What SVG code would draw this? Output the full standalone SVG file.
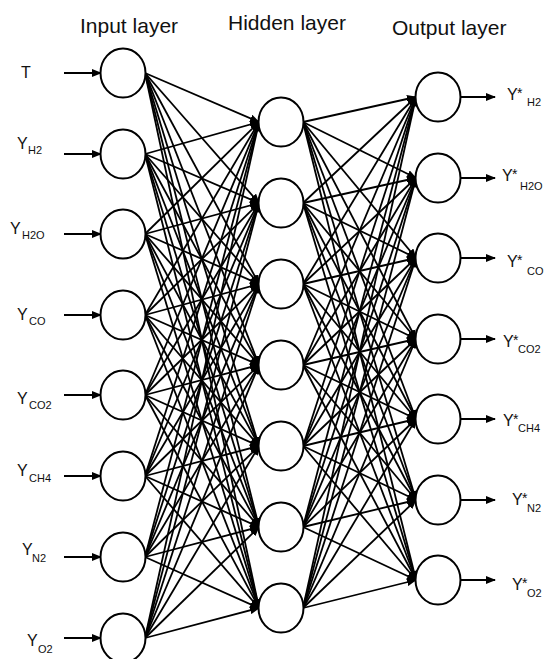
<svg xmlns="http://www.w3.org/2000/svg" width="551" height="659" viewBox="0 0 551 659">
<style>
text{font-family:"Liberation Sans",Arial,sans-serif;fill:#111}
.title{font-size:21px}
.big{font-size:16px}
.sub{font-size:11px}
.star{font-size:14px}
.node ellipse{fill:#fff;stroke:#000;stroke-width:2}
.conn line{stroke:#000;stroke-width:1.8;marker-end:url(#ah)}
</style>
<defs>
<marker id="ah" markerUnits="userSpaceOnUse" markerWidth="10" markerHeight="8" refX="9" refY="4" orient="auto">
<path d="M0,0 L10,4 L0,8 z" fill="#000"/>
</marker>
</defs>
<g id="titles">
<text class="title" x="80" y="33">Input layer</text>
<text class="title" x="228" y="30">Hidden layer</text>
<text class="title" x="392" y="35">Output layer</text>
</g>
<g id="connectors" class="conn">
<line x1="64" y1="73" x2="101" y2="73"/>
<line x1="64" y1="154" x2="101" y2="154"/>
<line x1="64" y1="234" x2="101" y2="234"/>
<line x1="64" y1="315" x2="101" y2="315"/>
<line x1="64" y1="395" x2="101" y2="395"/>
<line x1="64" y1="476" x2="101" y2="476"/>
<line x1="64" y1="557" x2="101" y2="557"/>
<line x1="64" y1="638" x2="101" y2="638"/>
<line x1="145" y1="73" x2="259" y2="122"/><line x1="145" y1="73" x2="259" y2="203"/><line x1="145" y1="73" x2="259" y2="284"/><line x1="145" y1="73" x2="259" y2="365"/><line x1="145" y1="73" x2="259" y2="446"/><line x1="145" y1="73" x2="259" y2="527"/><line x1="145" y1="73" x2="259" y2="608"/>
<line x1="145" y1="154" x2="259" y2="122"/><line x1="145" y1="154" x2="259" y2="203"/><line x1="145" y1="154" x2="259" y2="284"/><line x1="145" y1="154" x2="259" y2="365"/><line x1="145" y1="154" x2="259" y2="446"/><line x1="145" y1="154" x2="259" y2="527"/><line x1="145" y1="154" x2="259" y2="608"/>
<line x1="145" y1="234" x2="259" y2="122"/><line x1="145" y1="234" x2="259" y2="203"/><line x1="145" y1="234" x2="259" y2="284"/><line x1="145" y1="234" x2="259" y2="365"/><line x1="145" y1="234" x2="259" y2="446"/><line x1="145" y1="234" x2="259" y2="527"/><line x1="145" y1="234" x2="259" y2="608"/>
<line x1="145" y1="315" x2="259" y2="122"/><line x1="145" y1="315" x2="259" y2="203"/><line x1="145" y1="315" x2="259" y2="284"/><line x1="145" y1="315" x2="259" y2="365"/><line x1="145" y1="315" x2="259" y2="446"/><line x1="145" y1="315" x2="259" y2="527"/><line x1="145" y1="315" x2="259" y2="608"/>
<line x1="145" y1="395" x2="259" y2="122"/><line x1="145" y1="395" x2="259" y2="203"/><line x1="145" y1="395" x2="259" y2="284"/><line x1="145" y1="395" x2="259" y2="365"/><line x1="145" y1="395" x2="259" y2="446"/><line x1="145" y1="395" x2="259" y2="527"/><line x1="145" y1="395" x2="259" y2="608"/>
<line x1="145" y1="476" x2="259" y2="122"/><line x1="145" y1="476" x2="259" y2="203"/><line x1="145" y1="476" x2="259" y2="284"/><line x1="145" y1="476" x2="259" y2="365"/><line x1="145" y1="476" x2="259" y2="446"/><line x1="145" y1="476" x2="259" y2="527"/><line x1="145" y1="476" x2="259" y2="608"/>
<line x1="145" y1="557" x2="259" y2="122"/><line x1="145" y1="557" x2="259" y2="203"/><line x1="145" y1="557" x2="259" y2="284"/><line x1="145" y1="557" x2="259" y2="365"/><line x1="145" y1="557" x2="259" y2="446"/><line x1="145" y1="557" x2="259" y2="527"/><line x1="145" y1="557" x2="259" y2="608"/>
<line x1="145" y1="638" x2="259" y2="122"/><line x1="145" y1="638" x2="259" y2="203"/><line x1="145" y1="638" x2="259" y2="284"/><line x1="145" y1="638" x2="259" y2="365"/><line x1="145" y1="638" x2="259" y2="446"/><line x1="145" y1="638" x2="259" y2="527"/><line x1="145" y1="638" x2="259" y2="608"/>
<line x1="303" y1="122" x2="416" y2="97"/><line x1="303" y1="122" x2="416" y2="178"/><line x1="303" y1="122" x2="416" y2="258"/><line x1="303" y1="122" x2="416" y2="339"/><line x1="303" y1="122" x2="416" y2="419"/><line x1="303" y1="122" x2="416" y2="500"/><line x1="303" y1="122" x2="416" y2="580"/>
<line x1="303" y1="203" x2="416" y2="97"/><line x1="303" y1="203" x2="416" y2="178"/><line x1="303" y1="203" x2="416" y2="258"/><line x1="303" y1="203" x2="416" y2="339"/><line x1="303" y1="203" x2="416" y2="419"/><line x1="303" y1="203" x2="416" y2="500"/><line x1="303" y1="203" x2="416" y2="580"/>
<line x1="303" y1="284" x2="416" y2="97"/><line x1="303" y1="284" x2="416" y2="178"/><line x1="303" y1="284" x2="416" y2="258"/><line x1="303" y1="284" x2="416" y2="339"/><line x1="303" y1="284" x2="416" y2="419"/><line x1="303" y1="284" x2="416" y2="500"/><line x1="303" y1="284" x2="416" y2="580"/>
<line x1="303" y1="365" x2="416" y2="97"/><line x1="303" y1="365" x2="416" y2="178"/><line x1="303" y1="365" x2="416" y2="258"/><line x1="303" y1="365" x2="416" y2="339"/><line x1="303" y1="365" x2="416" y2="419"/><line x1="303" y1="365" x2="416" y2="500"/><line x1="303" y1="365" x2="416" y2="580"/>
<line x1="303" y1="446" x2="416" y2="97"/><line x1="303" y1="446" x2="416" y2="178"/><line x1="303" y1="446" x2="416" y2="258"/><line x1="303" y1="446" x2="416" y2="339"/><line x1="303" y1="446" x2="416" y2="419"/><line x1="303" y1="446" x2="416" y2="500"/><line x1="303" y1="446" x2="416" y2="580"/>
<line x1="303" y1="527" x2="416" y2="97"/><line x1="303" y1="527" x2="416" y2="178"/><line x1="303" y1="527" x2="416" y2="258"/><line x1="303" y1="527" x2="416" y2="339"/><line x1="303" y1="527" x2="416" y2="419"/><line x1="303" y1="527" x2="416" y2="500"/><line x1="303" y1="527" x2="416" y2="580"/>
<line x1="303" y1="608" x2="416" y2="97"/><line x1="303" y1="608" x2="416" y2="178"/><line x1="303" y1="608" x2="416" y2="258"/><line x1="303" y1="608" x2="416" y2="339"/><line x1="303" y1="608" x2="416" y2="419"/><line x1="303" y1="608" x2="416" y2="500"/><line x1="303" y1="608" x2="416" y2="580"/>
<line x1="461" y1="97" x2="495" y2="97"/>
<line x1="461" y1="178" x2="495" y2="178"/>
<line x1="461" y1="258" x2="495" y2="258"/>
<line x1="461" y1="339" x2="495" y2="339"/>
<line x1="461" y1="419" x2="495" y2="419"/>
<line x1="461" y1="500" x2="495" y2="500"/>
<line x1="461" y1="580" x2="495" y2="580"/>
</g>
<g id="in1" class="node"><ellipse cx="123" cy="73" rx="22.5" ry="24.5"/></g>
<g id="in2" class="node"><ellipse cx="123" cy="154" rx="22.5" ry="24.5"/></g>
<g id="in3" class="node"><ellipse cx="123" cy="234" rx="22.5" ry="24.5"/></g>
<g id="in4" class="node"><ellipse cx="123" cy="315" rx="22.5" ry="24.5"/></g>
<g id="in5" class="node"><ellipse cx="123" cy="395" rx="22.5" ry="24.5"/></g>
<g id="in6" class="node"><ellipse cx="123" cy="476" rx="22.5" ry="24.5"/></g>
<g id="in7" class="node"><ellipse cx="123" cy="557" rx="22.5" ry="24.5"/></g>
<g id="in8" class="node"><ellipse cx="123" cy="638" rx="22.5" ry="24.5"/></g>
<g id="h1" class="node"><ellipse cx="281" cy="122" rx="22.5" ry="24.5"/></g>
<g id="h2" class="node"><ellipse cx="281" cy="203" rx="22.5" ry="24.5"/></g>
<g id="h3" class="node"><ellipse cx="281" cy="284" rx="22.5" ry="24.5"/></g>
<g id="h4" class="node"><ellipse cx="281" cy="365" rx="22.5" ry="24.5"/></g>
<g id="h5" class="node"><ellipse cx="281" cy="446" rx="22.5" ry="24.5"/></g>
<g id="h6" class="node"><ellipse cx="281" cy="527" rx="22.5" ry="24.5"/></g>
<g id="h7" class="node"><ellipse cx="281" cy="608" rx="22.5" ry="24.5"/></g>
<g id="o1" class="node"><ellipse cx="438" cy="97" rx="22.5" ry="24.5"/></g>
<g id="o2" class="node"><ellipse cx="438" cy="178" rx="22.5" ry="24.5"/></g>
<g id="o3" class="node"><ellipse cx="438" cy="258" rx="22.5" ry="24.5"/></g>
<g id="o4" class="node"><ellipse cx="438" cy="339" rx="22.5" ry="24.5"/></g>
<g id="o5" class="node"><ellipse cx="438" cy="419" rx="22.5" ry="24.5"/></g>
<g id="o6" class="node"><ellipse cx="438" cy="500" rx="22.5" ry="24.5"/></g>
<g id="o7" class="node"><ellipse cx="438" cy="580" rx="22.5" ry="24.5"/></g>
<g id="input-labels">
<text class="big" x="21" y="78">T</text>
<text class="big" x="17" y="149">Y</text><text class="sub" x="28" y="154">H2</text>
<text class="big" x="10" y="234">Y</text><text class="sub" x="22" y="239">H2O</text>
<text class="big" x="17" y="320">Y</text><text class="sub" x="29" y="325">CO</text>
<text class="big" x="17" y="404">Y</text><text class="sub" x="29" y="409">CO2</text>
<text class="big" x="17" y="476">Y</text><text class="sub" x="29" y="482">CH4</text>
<text class="big" x="22" y="555">Y</text><text class="sub" x="32" y="562">N2</text>
<text class="big" x="27" y="646">Y</text><text class="sub" x="38" y="653">O2</text>
</g>
<g id="output-labels">
<text class="big" x="507" y="100">Y</text><text class="star" x="517" y="98">*</text><text class="sub" x="527" y="106">H2</text>
<text class="big" x="502" y="181">Y</text><text class="star" x="512" y="179">*</text><text class="sub" x="520" y="190">H2O</text>
<text class="big" x="507" y="267">Y</text><text class="star" x="517" y="265">*</text><text class="sub" x="527" y="275">CO</text>
<text class="big" x="503" y="347">Y</text><text class="star" x="513" y="345">*</text><text class="sub" x="518" y="353">CO2</text>
<text class="big" x="503" y="426">Y</text><text class="star" x="513" y="424">*</text><text class="sub" x="518" y="432">CH4</text>
<text class="big" x="512" y="505">Y</text><text class="star" x="522" y="503">*</text><text class="sub" x="527" y="512">N2</text>
<text class="big" x="512" y="590">Y</text><text class="star" x="522" y="588">*</text><text class="sub" x="527" y="597">O2</text>
</g>
</svg>
